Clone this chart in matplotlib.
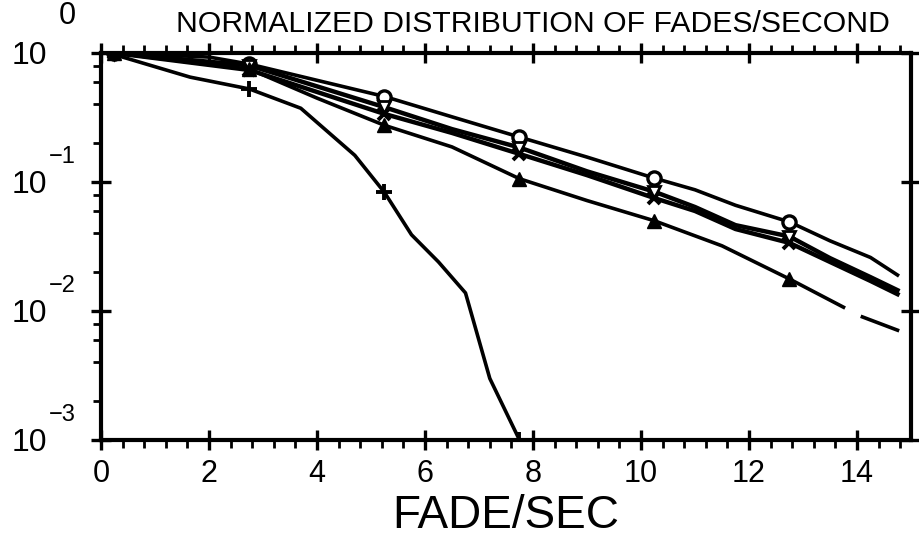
import matplotlib
matplotlib.use("Agg")
import matplotlib.pyplot as plt
import numpy as np
from matplotlib.ticker import MultipleLocator, LogLocator, NullFormatter

plt.rcParams['font.family'] = ['Liberation Sans', 'DejaVu Sans']

# Fades/second (x) and normalized distribution (y)
x_circle = [0.25, 2.0, 2.75, 5.25, 6.5, 7.75, 9.0, 10.25, 11.0, 11.75, 12.75, 13.5, 14.25, 14.75]
y_circle = [1.0, 0.93, 0.82, 0.46, 0.32, 0.223, 0.156, 0.107, 0.087, 0.066, 0.049, 0.035, 0.026, 0.019]

x_tri_down = [0.25, 2.75, 5.25, 6.5, 7.75, 9.0, 10.25, 11.0, 11.75, 12.75, 13.5, 14.25, 14.75]
y_tri_down = [1.0, 0.80, 0.38, 0.257, 0.185, 0.121, 0.084, 0.064, 0.0463, 0.0378, 0.0257, 0.0183, 0.0145]

x_cross = [0.25, 2.75, 5.25, 6.5, 7.75, 9.0, 10.25, 11.0, 11.75, 12.75, 13.5, 14.25, 14.75]
y_cross = [1.0, 0.738, 0.337, 0.240, 0.165, 0.113, 0.075, 0.0596, 0.0432, 0.0337, 0.024, 0.0171, 0.0135]

x_tri_up = [0.25, 2.75, 4.0, 5.25, 6.5, 7.75, 9.0, 10.25, 11.5, 12.75, 13.75, 13.9, 14.1, 14.75]
y_tri_up = [1.0, 0.75, 0.447, 0.275, 0.187, 0.106, 0.0718, 0.050, 0.032, 0.0177, 0.0107, None, 0.009, 0.0071]

x_plus = [0.25, 0.4, 1.65, 2.75, 3.7, 4.7, 5.25, 5.75, 6.25, 6.75, 7.2, 7.75]
y_plus = [1.0, 0.93, 0.65, 0.526, 0.373, 0.161, 0.083, 0.039, 0.024, 0.0138, 0.0030, 0.001]

x_ticks = [0, 2, 4, 6, 8, 10, 12, 14]
decades = [0, -1, -2, -3]


def marker_idx(xs):
    # symbols were plotted every 2.5 fades/sec starting at 0.25
    xs = np.asarray(xs, dtype=float)
    k = (xs - 0.25) / 2.5
    return [i for i in range(len(xs)) if abs(k[i] - round(k[i])) < 1e-6]


fig = plt.figure(figsize=(9.2, 5.38), dpi=100)
ax = fig.add_axes([101 / 920, 1 - 440 / 538, 810 / 920, 387 / 538])

ax.plot(x_circle, y_circle, color="black", lw=2.6, marker="o", ms=9.5,
        mfc="white", mec="black", mew=2.4, markevery=marker_idx(x_circle), zorder=3)
ax.plot(x_tri_down, y_tri_down, color="black", lw=3.2, marker="v", ms=8,
        mfc="white", mec="black", mew=2.0, markevery=marker_idx(x_tri_down), zorder=3)
ax.plot(x_cross, y_cross, color="black", lw=3.2, marker="x", ms=9,
        mec="black", mew=2.8, markevery=marker_idx(x_cross), zorder=3)
ax.plot(x_tri_up, np.array(y_tri_up, dtype=float), color="black", lw=2.6, marker="^", ms=9.5,
        mfc="black", mec="black", markevery=marker_idx(x_tri_up), zorder=3)
ax.plot(x_plus, y_plus, color="black", lw=2.6, marker="+", ms=12,
        mec="black", mew=2.8, markevery=marker_idx(x_plus), zorder=3)

ax.set_yscale("log")
ax.set_xlim(0, 15)
ax.set_ylim(1e-3, 1)

ax.xaxis.set_major_locator(MultipleLocator(2))
ax.xaxis.set_minor_locator(MultipleLocator(0.4))
ax.yaxis.set_major_locator(LogLocator(base=10, numticks=10))
ax.yaxis.set_minor_locator(LogLocator(base=10, subs=(2, 4, 6, 8), numticks=10))
ax.yaxis.set_major_formatter(NullFormatter())
ax.yaxis.set_minor_formatter(NullFormatter())
ax.set_xticks(x_ticks)
ax.set_xticklabels([str(t) for t in x_ticks], fontsize=22)

ax.tick_params(which="major", direction="inout", length=15, width=2.4,
               top=True, right=True, pad=6)
ax.tick_params(which="minor", direction="out", length=6, width=2.0,
               top=True, right=False)
for s in ax.spines.values():
    s.set_linewidth(3)

# y labels drawn as 10 with a raised exponent, plotter style
for d in decades:
    ax.annotate("10", xy=(0, 10.0 ** d), xycoords=("axes fraction", "data"),
                xytext=(-39, -2), textcoords="offset points",
                ha="right", va="center", fontsize=23)
    up = 27 if d == 0 else 18
    exp = "0" if d == 0 else "\u2212" + str(-d)
    ax.annotate(exp, xy=(0, 10.0 ** d), xycoords=("axes fraction", "data"),
                xytext=(-18, up), textcoords="offset points",
                ha="right", va="center", fontsize=22 if d == 0 else 17,
                annotation_clip=False)

ax.set_xlabel("FADE/SEC", fontsize=33, labelpad=4)
fig.text(176 / 920, 1 - 32 / 538, "NORMALIZED DISTRIBUTION OF FADES/SECOND",
         fontsize=21.7, ha="left", va="baseline")

fig.savefig("out.png", dpi=100)
